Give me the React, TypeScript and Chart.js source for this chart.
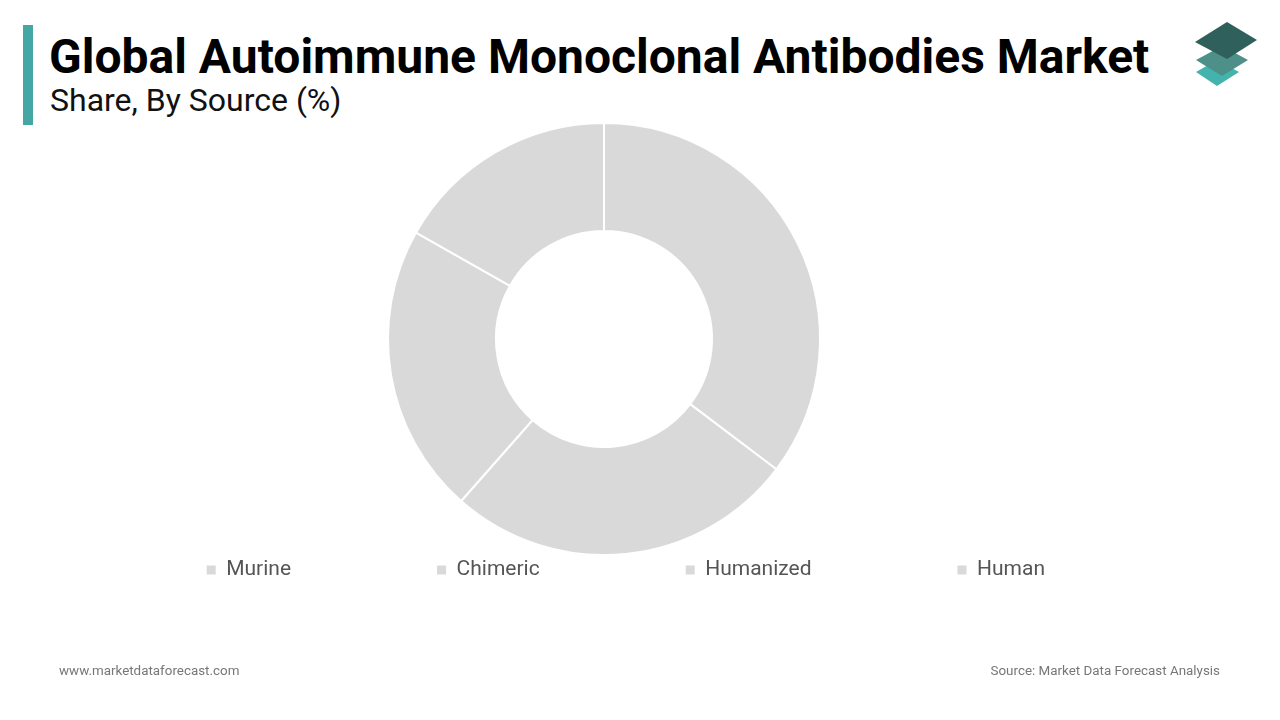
import React, { useEffect, useRef } from "react";
import { Chart, registerables } from "chart.js";

Chart.register(...registerables);

const categories: string[] = ["Murine", "Chimeric", "Humanized", "Human"];
const shareValues: number[] = [35.3, 26.2, 21.7, 16.8];
const sliceColors: string[] = ["#d9d9d9", "#d9d9d9", "#d9d9d9", "#d9d9d9"];

const titleText = "Global Autoimmune Monoclonal Antibodies Market";
const subtitleText = "Share, By Source (%)";
const siteText = "www.marketdataforecast.com";
const sourceText = "Source: Market Data Forecast Analysis";

export default function App() {
  const canvasRef = useRef<HTMLCanvasElement | null>(null);

  useEffect(() => {
    if (!canvasRef.current) return;
    const defaultGen = (Chart as any).overrides.doughnut.plugins.legend.labels.generateLabels;
    const chart = new Chart(canvasRef.current, {
      type: "doughnut",
      data: {
        labels: categories,
        datasets: [
          {
            data: shareValues,
            backgroundColor: sliceColors,
            borderColor: "#ffffff",
            borderWidth: 2,
            radius: 216,
            cutout: "50%",
            clip: false,
          } as any,
        ],
      },
      options: {
        responsive: false,
        animation: false,
        layout: { padding: { left: 17, right: 89, top: 264.5, bottom: 129.5 } },
        plugins: {
          tooltip: { enabled: false },
          legend: {
            position: "bottom",
            align: "end",
            maxHeight: 260,
            labels: {
              boxWidth: 9,
              boxHeight: 9,
              padding: 146,
              color: "#555555",
              font: { family: "Roboto", size: 21 },
              generateLabels: (c: any) =>
                defaultGen(c).map((l: any) => ({ ...l, lineWidth: 0 })),
            },
          },
        },
      },
    });
    return () => chart.destroy();
  }, []);

  return (
    <div
      style={{
        position: "absolute",
        left: 0,
        top: 0,
        width: 1280,
        height: 720,
        overflow: "hidden",
        background: "#ffffff",
        fontFamily: "Roboto, sans-serif",
      }}
    >
      <div style={{ position: "absolute", left: 23, top: 25, width: 10, height: 100, background: "#45a6a6" }} />
      <div
        style={{
          position: "absolute",
          left: 49,
          top: 33,
          fontSize: 48,
          lineHeight: "48px",
          fontWeight: 700,
          color: "#000000",
          whiteSpace: "nowrap",
        }}
      >
        {titleText}
      </div>
      <div
        style={{
          position: "absolute",
          left: 50,
          top: 84,
          fontSize: 32,
          lineHeight: "32px",
          color: "#111111",
          whiteSpace: "nowrap",
        }}
      >
        {subtitleText}
      </div>
      <svg style={{ position: "absolute", left: 1190, top: 18 }} width={72} height={74} viewBox="0 0 72 74">
        <polygon points="6,54 27,42 49,54 27,68" fill="#44b3ae" />
        <polygon points="6,42 32,28 58,42 32,58" fill="#4d8f89" />
        <polygon points="5,24 37,4 67,22 37,41" fill="#2f605b" />
      </svg>
      <canvas ref={canvasRef} width={1280} height={720} style={{ position: "absolute", left: 0, top: 0 }} />
      <div
        style={{
          position: "absolute",
          left: 59,
          top: 664,
          fontSize: 13.4,
          lineHeight: "13px",
          color: "#777777",
          whiteSpace: "nowrap",
        }}
      >
        {siteText}
      </div>
      <div
        style={{
          position: "absolute",
          right: 60,
          top: 664,
          fontSize: 13.4,
          lineHeight: "13px",
          color: "#777777",
          whiteSpace: "nowrap",
        }}
      >
        {sourceText}
      </div>
    </div>
  );
}
